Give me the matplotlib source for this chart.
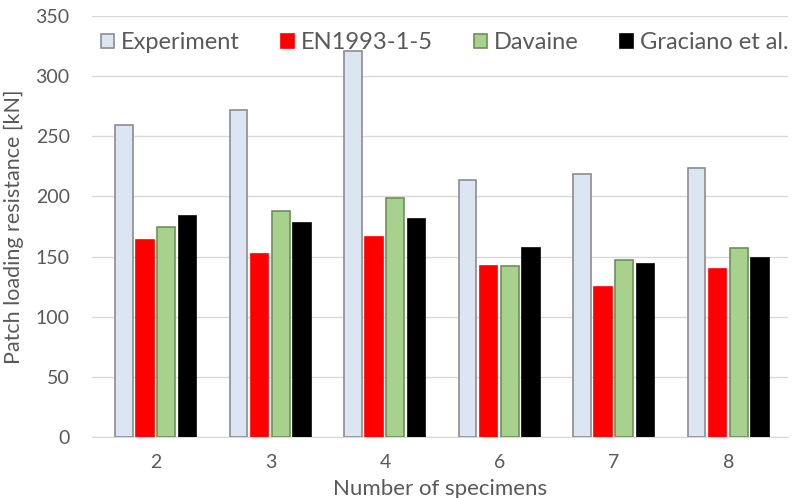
import numpy as np
from matplotlib import pyplot as plt

plt.switch_backend('agg')

specimens = ['2', '3', '4', '6', '7', '8']
experiment = [259, 272, 321, 214, 219, 224]
en1993 = [164, 152, 166, 142, 125, 140]
davaine = [175, 188, 199, 142, 147, 157]
graciano = [184, 178, 181, 157, 144, 149]

series = [
    ('Experiment', experiment, '#dce6f2', '#8c8c8c'),
    ('EN1993-1-5', en1993, '#ff0000', '#ff0000'),
    ('Davaine', davaine, '#a9d18e', '#6e8f5a'),
    ('Graciano et al.', graciano, '#000000', '#000000'),
]

plt.rcParams['font.family'] = ['Lato', 'DejaVu Sans']
text_color = '#595959'

fig = plt.figure(figsize=(7.92, 4.98), dpi=100)
ax = fig.add_axes([0.116, 0.122, 0.879, 0.846])

x = np.arange(len(specimens))
width = 0.155
offsets = [-0.28, -0.095, 0.09, 0.275]
for (name, values, face, edge), off in zip(series, offsets):
    ax.bar(x + off, values, width, color=face, edgecolor=edge, linewidth=1.2, label=name, zorder=3)

ax.set_xlim(-0.56, 5.52)
ax.set_ylim(0, 350)
ax.set_yticks(range(0, 351, 50))
ax.set_xticks(x)
ax.set_xticklabels(specimens)
ax.yaxis.grid(True, color='#d9d9d9', linewidth=1, zorder=0)
for side in ['top', 'right', 'left']:
    ax.spines[side].set_visible(False)
ax.spines['bottom'].set_color('#d9d9d9')
ax.tick_params(axis='both', length=0, colors=text_color, labelsize=14)
ax.tick_params(axis='x', pad=12)
ax.tick_params(axis='y', pad=16)

ax.set_xlabel('Number of specimens', color=text_color, fontsize=16, labelpad=6)
ax.set_ylabel('Patch loading resistance [kN]', color=text_color, fontsize=15.5, labelpad=8)

ax.legend(loc='upper center', bbox_to_anchor=(0.507, 0.995), ncol=4, frameon=False,
          fontsize=17, handlelength=0.55, handleheight=0.55, handletextpad=0.3,
          columnspacing=1.75, labelcolor=text_color, borderaxespad=0.2)

plt.savefig('out.png', dpi=100)
